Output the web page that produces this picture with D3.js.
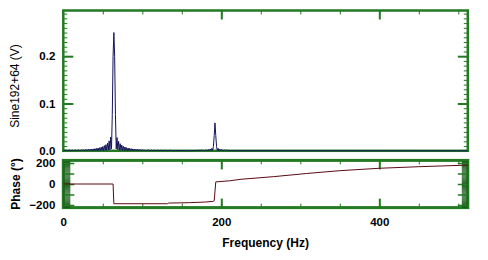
<!DOCTYPE html>
<html>
<head>
<meta charset="utf-8">
<script src="https://cdn.jsdelivr.net/npm/d3@7"></script>
<style>
  body { margin: 0; background: #fff; }
  svg text { font-family: "Liberation Sans", Arial, sans-serif; font-size: 12px; font-weight: bold; fill: #000; }
  svg .lbl text { font-size: 11.5px; }
</style>
</head>
<body>
<svg id="chart" width="488" height="260"></svg>
<script>
// spectrum magnitude (V)
const specHz = [0, 4, 5, 8, 9, 12, 13, 16, 17, 20, 21, 24, 25, 26, 27, 28, 29, 30, 31, 32, 33, 34, 35,
  36, 37, 38, 39, 40, 41, 42, 43, 44, 45, 46, 47, 48, 49, 50, 51, 52, 53, 54, 55, 56, 57, 58, 59, 60, 61,
  62, 63, 64, 65, 66,
  67, 68, 69, 70, 71, 72, 73, 74, 75, 76, 77, 78, 79, 80, 81, 82, 83, 84, 85, 86, 87, 88, 89, 90, 91,
  92, 93, 94, 95, 96, 97, 98, 99, 100, 101, 102, 103, 104, 105, 108, 109, 112, 113, 116, 117, 120, 121,
  124, 125, 130, 131, 136, 137, 142, 160,
  176, 177, 178, 179, 180, 181, 182, 183, 184, 185, 186, 187, 188, 189, 190, 191, 192, 193, 194,
  195, 196, 197, 198, 199, 200, 201, 202, 203, 204, 205, 206, 208, 212, 512];
const specV = [0, 0.0015, 0.0003, 0.0015, 0.0003, 0.0015, 0.0003, 0.0018, 0.0003, 0.002, 0.0003, 0.0022, 0.0003,
  0.0024, 0.0003, 0.0026, 0.0003, 0.0028, 0.0003, 0.003, 0.0004, 0.0033, 0.0004,
  0.0036, 0.0004, 0.004, 0.0005, 0.0045, 0.0005, 0.005, 0.0005, 0.0058, 0.0006, 0.0066, 0.0006, 0.0076, 0.0007,
  0.009, 0.0008, 0.011, 0.001, 0.013, 0.0012, 0.016, 0.0015, 0.021, 0.002, 0.029, 0.004,
  0.077, 0.2, 0.25, 0.2, 0.077,
  0.004, 0.028, 0.002, 0.02, 0.0015, 0.015, 0.0012, 0.012, 0.001, 0.0095, 0.0008, 0.008, 0.0007, 0.0068, 0.0006,
  0.0058, 0.0006, 0.005, 0.0005, 0.0045, 0.0005, 0.004, 0.0005, 0.0036, 0.0004,
  0.0033, 0.0004, 0.003, 0.0004, 0.0028, 0.0003, 0.0026, 0.0003, 0.0024, 0.0003, 0.0022, 0.0003, 0.002, 0.0003,
  0.0018, 0.0003, 0.0016, 0.0003, 0.0015, 0.0003, 0.0014, 0.0003,
  0.0013, 0.0003, 0.0012, 0.0003, 0.001, 0.0003, 0.0005, 0.0003,
  0.0012, 0.0002, 0.0015, 0.0002, 0.0018, 0.0002, 0.0022, 0.0003, 0.0028, 0.0003, 0.0035, 0.0004, 0.005, 0.0006,
  0.009, 0.032, 0.059, 0.032, 0.009,
  0.0006, 0.005, 0.0004, 0.0035, 0.0003, 0.0028, 0.0003, 0.0022, 0.0002, 0.0018, 0.0002, 0.0015, 0.001, 0.0003, 0];

// phase (degrees)
const phaseHz  = [0, 63, 64, 132, 133, 160, 180, 190, 191, 193, 210, 225, 266, 308, 350, 400, 450, 512];
const phaseDeg = [0, 0, -188, -188, -182, -178, -172, -165, -160, 20, 30, 45, 70, 100, 127, 150, 165, 180];

const freqLabels = [0, 200, 400];
const magLabels = [0, 0.1, 0.2];
const phaseLabels = [-200, 0, 200];

const FRAME = '#237a23';
const FRAME_DARK = '#1b5e1b';

const svg = d3.select('#chart');

const x = d3.scaleLinear().domain([0, 512]).range([63.3, 467.8]);
const yMag = d3.scaleLinear().domain([0, 0.2966]).range([150.8, 10.5]);
const yPh = d3.scaleLinear().domain([-225, 225]).range([207.6, 160.4]);

function tickRow(axisFn, scale, values, size, tx, ty, color, width) {
  let g = svg.append('g').attr('transform', 'translate(' + tx + ',' + ty + ')');
  g.call(axisFn(scale).tickValues(values).tickSize(size).tickFormat(''));
  g.select('.domain').remove();
  g.selectAll('line').attr('stroke', color).attr('stroke-width', width);
  return g;
}

function labelRow(axisFn, scale, values, fmt, pad, tx, ty) {
  let g = svg.append('g').attr('class', 'lbl').attr('transform', 'translate(' + tx + ',' + ty + ')');
  g.call(axisFn(scale).tickValues(values).tickSize(0).tickPadding(pad).tickFormat(fmt));
  g.select('.domain').remove();
  g.attr('font-family', null).attr('font-size', null);
  return g;
}

const left = x.range()[0], right = x.range()[1];

// ---- top panel: magnitude
svg.append('rect')
  .attr('x', left).attr('y', yMag.range()[1])
  .attr('width', right - left).attr('height', yMag.range()[0] - yMag.range()[1])
  .attr('fill', '#fff').attr('stroke', FRAME).attr('stroke-width', 2.5);

let magMinor = d3.range(0, 0.295, 0.01);
tickRow(d3.axisLeft, yMag, magMinor, -4, left, 0, FRAME, 1);
tickRow(d3.axisRight, yMag, magMinor, -4, right, 0, FRAME, 1);
tickRow(d3.axisLeft, yMag, [0.1, 0.2], -10, left, 0, FRAME, 2);
tickRow(d3.axisRight, yMag, [0.1, 0.2], -10, right, 0, FRAME, 2);
tickRow(d3.axisTop, x, d3.range(50, 512, 50), -4, 0, yMag.range()[1], FRAME, 1);
tickRow(d3.axisTop, x, [200, 400], -9, 0, yMag.range()[1], FRAME, 2);

svg.append('path')
  .datum(specV)
  .attr('fill', 'none')
  .attr('stroke', '#14145a')
  .attr('stroke-width', 1)
  .attr('d', d3.line().x((d, i) => x(specHz[i])).y(d => yMag(d)));

labelRow(d3.axisLeft, yMag, magLabels, d3.format('.1f'), 8, left, 0);

// ---- bottom panel: phase
svg.append('rect')
  .attr('x', left).attr('y', yPh.range()[1])
  .attr('width', right - left).attr('height', yPh.range()[0] - yPh.range()[1])
  .attr('fill', '#fff').attr('stroke', FRAME).attr('stroke-width', 3);

let phMinor = d3.range(-220, 221, 10);
tickRow(d3.axisLeft, yPh, phMinor, -7, left, 0, FRAME_DARK, 1);
tickRow(d3.axisRight, yPh, phMinor, -6, right, 0, FRAME_DARK, 1);
tickRow(d3.axisLeft, yPh, [-200, -100, 0, 100, 200], -11, left, 0, FRAME, 1.5);
tickRow(d3.axisRight, yPh, [-200, -100, 0, 100, 200], -10, right, 0, FRAME, 1.5);
tickRow(d3.axisTop, x, d3.range(50, 512, 50), -4, 0, yPh.range()[1], FRAME, 1);
tickRow(d3.axisTop, x, [200, 400], -9, 0, yPh.range()[1], FRAME, 2);
tickRow(d3.axisBottom, x, d3.range(50, 512, 50), -4, 0, yPh.range()[0], FRAME, 1);
tickRow(d3.axisBottom, x, [200, 400], -9, 0, yPh.range()[0], FRAME, 2);

svg.append('path')
  .datum(phaseDeg)
  .attr('fill', 'none')
  .attr('stroke', '#5a0a14')
  .attr('stroke-width', 1)
  .attr('d', d3.line().x((d, i) => x(phaseHz[i])).y(d => yPh(d)));

labelRow(d3.axisLeft, yPh, phaseLabels, d3.format('d'), 8, left, 0);
labelRow(d3.axisBottom, x, freqLabels, d3.format('d'), 10, 0, yPh.range()[0]);

// ---- axis titles
svg.append('text')
  .attr('transform', 'translate(16,86) rotate(-90)')
  .attr('text-anchor', 'middle')
  .attr('dominant-baseline', 'middle')
  .style('font-weight', 'normal')
  .text('Sine192+64 (V)');

svg.append('text')
  .attr('transform', 'translate(17,184) rotate(-90)')
  .attr('text-anchor', 'middle')
  .attr('dominant-baseline', 'middle')
  .text('Phase (°)');

svg.append('text')
  .attr('x', (left + right) / 2)
  .attr('y', 247)
  .attr('text-anchor', 'middle')
  .text('Frequency (Hz)');
</script>
</body>
</html>
